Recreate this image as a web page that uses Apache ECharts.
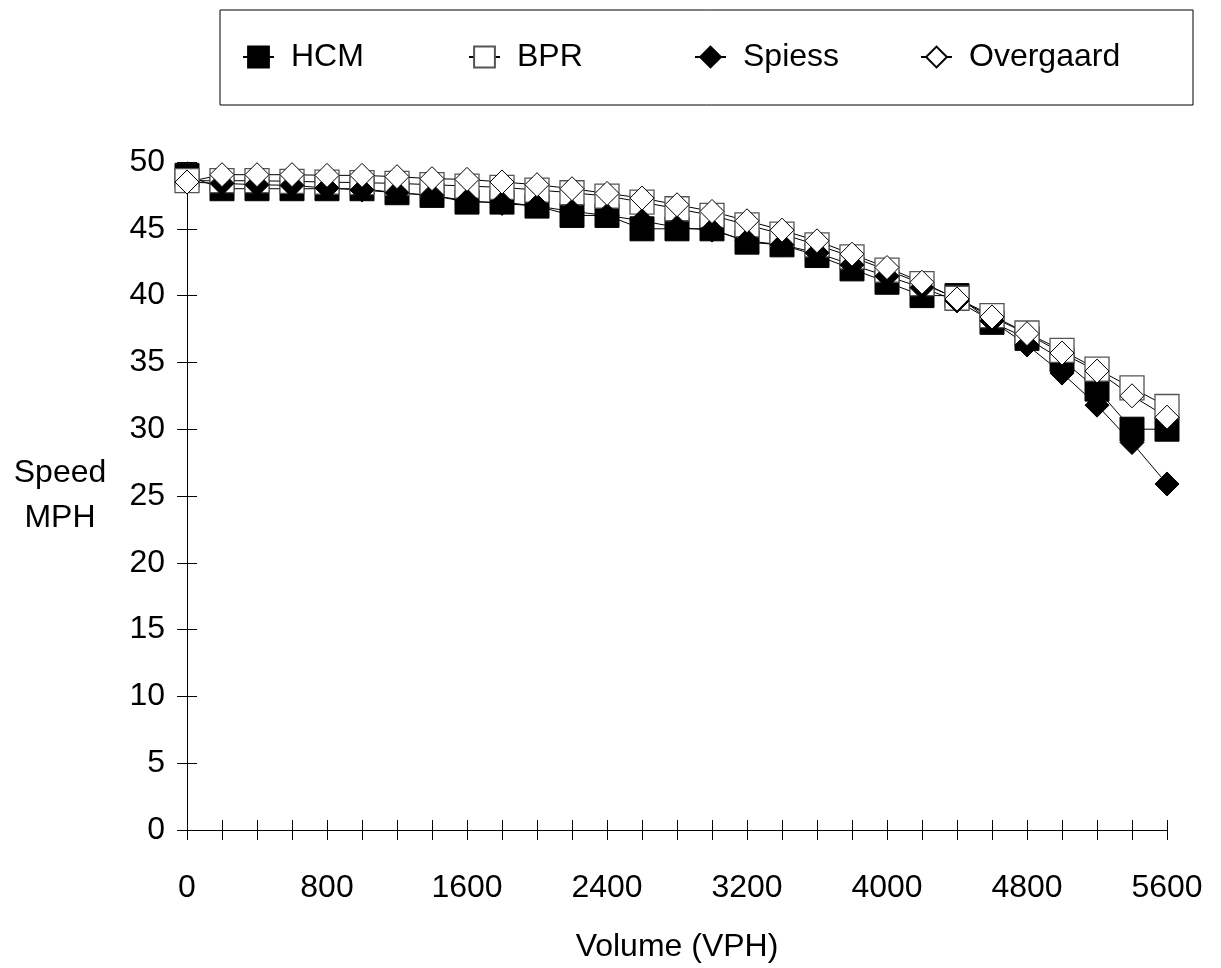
<!DOCTYPE html>
<html><head><meta charset="utf-8">
<script src="https://cdn.jsdelivr.net/npm/echarts@6/dist/echarts.min.js"></script>
<style>html,body{margin:0;padding:0;background:#fff}#c{width:1221px;height:968px}</style>
</head><body><div id="c"></div>
<script>
const volumes = [0,200,400,600,800,1000,1200,1400,1600,1800,2000,2200,2400,2600,2800,3000,3200,3400,3600,3800,4000,4200,4400,4600,4800,5000,5200,5400,5600];
const hcm = [49,48,48,48,48,48,47.7,47.5,47,47,46.7,46,46,45,45,45,44,43.8,43,42,41,40,40,38,36.8,35.2,33,30,30];
const bpr = [48.6,48.6,48.6,48.55,48.5,48.45,48.4,48.3,48.2,48.1,47.9,47.7,47.45,47.0,46.5,46.0,45.3,44.6,43.8,42.9,41.9,40.9,39.8,38.5,37.2,35.9,34.5,33.1,31.7];
const spiess = [48.5,48.4,48.3,48.25,48.05,47.9,47.7,47.5,47.1,46.9,46.7,46.3,46.0,45.6,45.1,44.9,44.1,43.8,43.2,42.3,41.45,40.6,39.6,38.1,36.3,34.2,31.8,29.0,25.9];
const overgaard = [48.5,49.05,49.05,49.05,49.0,49.0,48.9,48.75,48.7,48.5,48.3,48.0,47.65,47.3,46.8,46.3,45.6,44.9,44.1,43.1,42.1,41.0,39.75,38.4,37.15,35.7,34.35,32.5,30.9];
const seriesNames = ['HCM','BPR','Spiess','Overgaard'];
const xTickLabels = ['0','800','1600','2400','3200','4000','4800','5600'];
const xName = 'Volume (VPH)';
const yName = 'Speed\nMPH';

const FONT = '"Liberation Sans", Arial, sans-serif';
const chart = echarts.init(document.getElementById('c'), null, {renderer: 'canvas'});
function pairs(ys) { return volumes.map((v, i) => [v, ys[i]]); }
const lineStyle = {color: '#000', width: 1};
const baseX = {type: 'value', min: 0, max: 5600, interval: 200, position: 'bottom', splitLine: {show: false}};
const baseY = {type: 'value', min: 0, max: 50, interval: 5, position: 'left', splitLine: {show: false}};
const txt = {color: '#000', fontFamily: FONT, fontSize: 32};

chart.setOption({
  animation: false,
  backgroundColor: '#fff',
  grid: {left: 187, right: 54, top: 162, bottom: 137, containLabel: false},
  legend: {
    data: seriesNames,
    left: 220, top: 10,
    orient: 'horizontal',
    borderColor: '#000', borderWidth: 1,
    padding: [31, 64, 32, 22],
    itemWidth: 31, itemHeight: 26, itemGap: 17,
    textStyle: Object.assign({}, txt, {width: 160, overflow: 'truncate', ellipsis: '', lineHeight: 32, padding: [0, 0, 0, 12]})
  },
  xAxis: [
    Object.assign({}, baseX, {
      axisLine: {show: true, onZero: false, lineStyle: {color: '#000', width: 1}},
      axisTick: {show: true, inside: true, length: 10, lineStyle: {color: '#000', width: 1}},
      axisLabel: Object.assign({}, txt, {margin: 42, formatter: v => xTickLabels.includes(String(v)) ? String(v) : ''}),
      name: xName, nameLocation: 'middle', nameGap: 101,
      nameTextStyle: Object.assign({}, txt)
    }),
    Object.assign({}, baseX, {
      axisLine: {show: false, onZero: false},
      axisTick: {show: true, inside: false, length: 10, lineStyle: {color: '#000', width: 1}},
      axisLabel: {show: false}
    })
  ],
  yAxis: [
    Object.assign({}, baseY, {
      axisLine: {show: true, onZero: false, lineStyle: {color: '#000', width: 1}},
      axisTick: {show: true, inside: true, length: 10, lineStyle: {color: '#000', width: 1}},
      axisLabel: Object.assign({}, txt, {margin: 22}),
      name: yName, nameLocation: 'middle', nameGap: 127, nameRotate: 0,
      nameTextStyle: Object.assign({}, txt, {align: 'center', verticalAlign: 'middle', lineHeight: 45})
    }),
    Object.assign({}, baseY, {
      axisLine: {show: false, onZero: false},
      axisTick: {show: true, inside: false, length: 10, lineStyle: {color: '#000', width: 1}},
      axisLabel: {show: false}
    })
  ],
  series: [
    {name: seriesNames[0], type: 'line', xAxisIndex: 0, yAxisIndex: 0, data: pairs(hcm), clip: false,
     symbol: 'rect', symbolSize: 24, lineStyle: lineStyle,
     itemStyle: {color: '#000', borderColor: '#000', borderWidth: 1}},
    {name: seriesNames[1], type: 'line', xAxisIndex: 0, yAxisIndex: 0, data: pairs(bpr), clip: false,
     symbol: 'rect', symbolSize: 24, lineStyle: lineStyle,
     itemStyle: {color: '#fff', borderColor: '#555', borderWidth: 1.3}},
    {name: seriesNames[2], type: 'line', xAxisIndex: 0, yAxisIndex: 0, data: pairs(spiess), clip: false,
     symbol: 'diamond', symbolSize: 24, lineStyle: lineStyle,
     itemStyle: {color: '#000', borderColor: '#000', borderWidth: 1}},
    {name: seriesNames[3], type: 'line', xAxisIndex: 0, yAxisIndex: 0, data: pairs(overgaard), clip: false,
     symbol: 'diamond', symbolSize: 24, lineStyle: lineStyle,
     itemStyle: {color: '#fff', borderColor: '#000', borderWidth: 1}}
  ]
});
</script></body></html>
